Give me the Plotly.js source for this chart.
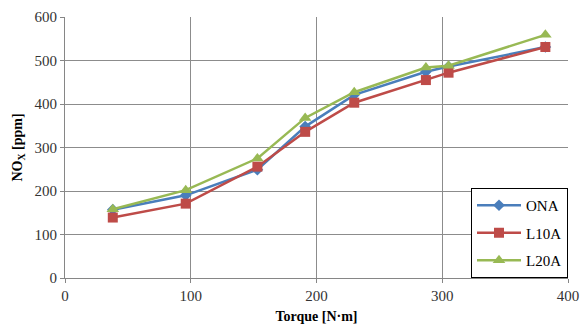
<!DOCTYPE html>
<html><head><meta charset="utf-8">
<script src="https://cdn.plot.ly/plotly-3.0.1.min.js"></script>
<style>html,body{margin:0;padding:0;background:#fff}#chart{width:580px;height:324px}</style>
</head><body><div id="chart"></div>
<script>
const torque = [38, 96, 153, 191, 230, 287, 305, 382];
const ONA  = [157, 190, 249, 348, 421, 474, 486, 531];
const L10A = [139, 171, 256, 336, 403, 455, 472, 531];
const L20A = [158, 202, 275, 368, 427, 484, 488, 559];
const xTicks = [0, 100, 200, 300, 400];
const yTicks = [0, 100, 200, 300, 400, 500, 600];

const mk = (name, y, color, symbol, size, g) => ({
  x: torque, y: y, name: name, type: 'scatter', mode: 'lines+markers',
  legendgroup: g,
  line: {color: color, width: 2.5},
  marker: {color: color, symbol: symbol, size: size}
});
const data = [
  mk('ONA', ONA, '#4A7EBB', 'diamond', 9, 'a'),
  mk('L10A', L10A, '#BE4B48', 'square', 10, 'b'),
  mk('L20A', L20A, '#98B954', 'triangle-up', 11, 'c')
];
const FAM = 'Liberation Serif, Times New Roman, serif';
const font = {family: FAM, size: 14, color: '#000'};
const tickfont = {family: FAM, size: 15, color: '#333'};
const layout = {
  width: 580, height: 324,
  margin: {l: 65, r: 12, t: 17, b: 46},
  paper_bgcolor: '#fff', plot_bgcolor: '#fff',
  font: font,
  showlegend: true,
  legend: {x: 1, xanchor: 'right', y: 0, yanchor: 'bottom',
    bordercolor: '#000', borderwidth: 1, bgcolor: '#fff', itemwidth: 44,
    tracegroupgap: 5, font: {family: FAM, size: 15, color: '#000'}},
  xaxis: {range: [0, 400], tickvals: xTicks, ticks: 'outside', ticklen: 4, tickcolor: '#868686',
    tickfont: tickfont,
    showgrid: true, gridcolor: '#8C8C8C', gridwidth: 1, zeroline: false,
    showline: true, linecolor: '#868686', linewidth: 1,
    title: {text: '<b>Torque [N·m]</b>', font: {family: FAM, size: 14, color: '#000'}, standoff: 8}},
  yaxis: {range: [0, 600], tickvals: yTicks, ticks: 'outside', ticklen: 4, tickcolor: '#868686',
    tickfont: tickfont,
    showgrid: true, gridcolor: '#8C8C8C', gridwidth: 1, zeroline: false,
    showline: true, linecolor: '#868686', linewidth: 1,
    title: {text: '<b>NO<sub>X</sub> [ppm]</b>', font: {family: FAM, size: 14, color: '#000'}, standoff: 8}}
};
Plotly.newPlot('chart', data, layout, {displayModeBar: false, staticPlot: true});
</script></body></html>
